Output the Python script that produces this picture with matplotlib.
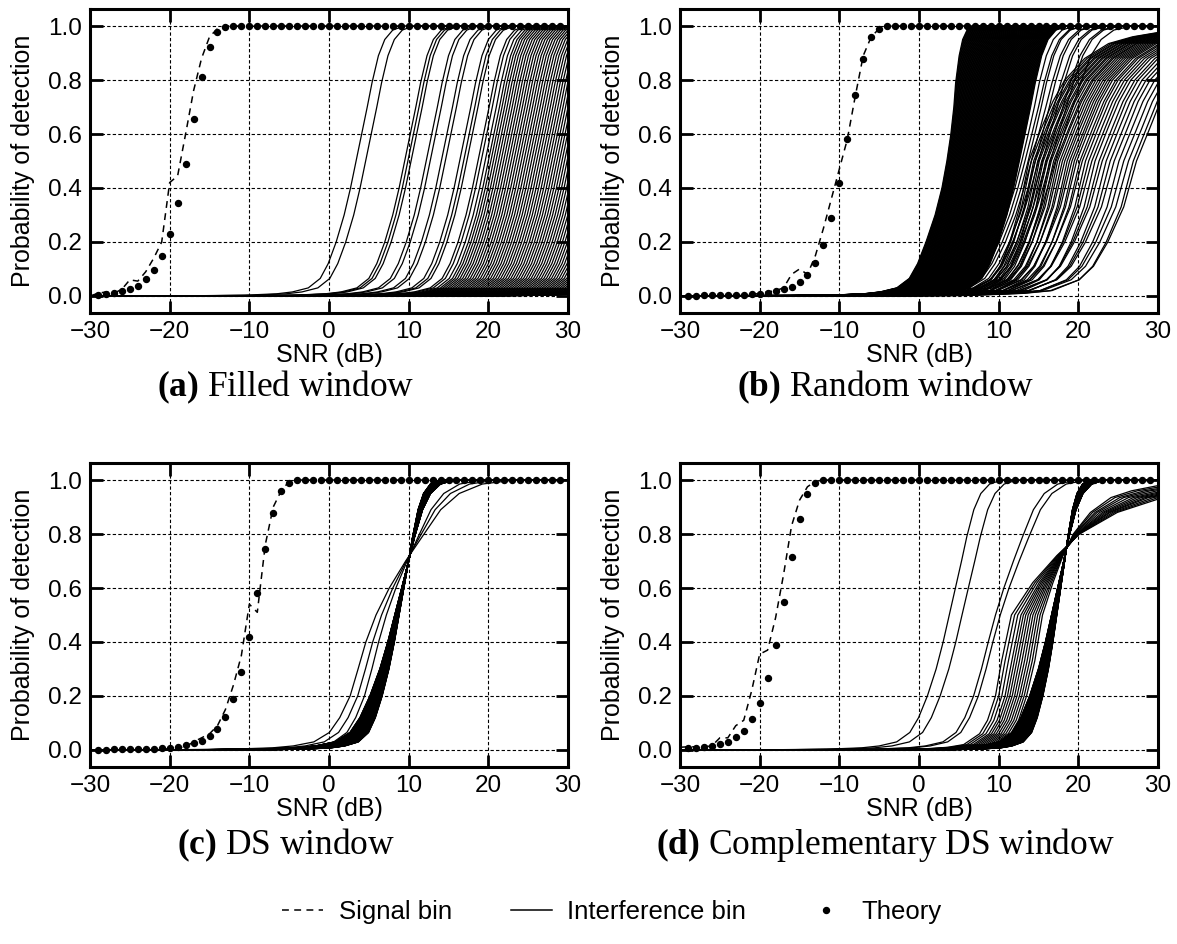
import matplotlib
matplotlib.use("Agg")
import matplotlib.pyplot as plt
import numpy as np
from matplotlib.lines import Line2D

plt.rcParams['font.family'] = ['Liberation Sans', 'DejaVu Sans']
plt.rcParams['mathtext.fontset'] = 'custom'
plt.rcParams['mathtext.rm'] = 'Liberation Serif'
plt.rcParams['mathtext.bf'] = 'Liberation Serif:bold'

# ---- SNR grids (dB)
snr_sig = np.arange(-30, 31)   # signal bin samples
snr_th = np.arange(-29, 30)    # theory samples

# ---- signal bin (dashed) and theory (dots)
sig_a = [0.0, 0.01, 0.015, 0.01, 0.025, 0.06, 0.055, 0.09, 0.14, 0.2, 0.42, 0.445,
         0.6, 0.76, 0.88, 0.96, 0.99, 1.0] + [1.0] * 43
th_a = [0.005, 0.008, 0.012, 0.019, 0.025, 0.038, 0.063, 0.095, 0.148, 0.229, 0.344,
        0.49, 0.657, 0.811, 0.922, 0.976, 0.996] + [1.0] * 42

sig_b = [0.0] * 9 + [0.005, 0.01] + [0.015, 0.02, 0.03, 0.08, 0.10, 0.08, 0.15, 0.25,
         0.36, 0.47, 0.58, 0.74, 0.89, 0.96, 0.99, 1.0] + [1.0] * 34
th_bc = [0.001, 0.001, 0.002, 0.002, 0.003, 0.003, 0.004, 0.005, 0.007, 0.009, 0.012,
         0.017, 0.025, 0.035, 0.051, 0.078, 0.121, 0.189, 0.288, 0.42, 0.58, 0.744,
         0.879, 0.959, 0.99] + [1.0] * 34

sig_c = [0.0] * 9 + [0.003, 0.005, 0.008] + [0.012, 0.03, 0.045, 0.06, 0.09, 0.15, 0.24,
         0.35, 0.54, 0.51, 0.76, 0.9, 0.96, 0.995, 1.0] + [1.0] * 34

sig_d = [0.01, 0.012, 0.012, 0.012, 0.015, 0.045, 0.045, 0.09, 0.11, 0.22, 0.355, 0.37,
         0.49, 0.65, 0.83, 0.925, 0.975, 0.995, 1.0] + [1.0] * 42
th_d = [0.006, 0.009, 0.011, 0.014, 0.021, 0.031, 0.048, 0.072, 0.114, 0.173, 0.265,
        0.39, 0.547, 0.714, 0.857, 0.947, 0.988] + [1.0] * 42

# ---- interference bin curve shapes (offset from the Pd=0.5 point, dB)
T_off = [-60, -20, -14, -10, -8, -6, -4.5, -3.5, -2.5, -1.5, -0.7, 0, 0.7, 1.4, 2.0, 2.8, 3.6, 4.6, 6.0, 60]
T_pd = [0.0, 0.001, 0.003, 0.008, 0.015, 0.03, 0.065, 0.12, 0.2, 0.3, 0.4, 0.5, 0.6, 0.7, 0.79, 0.89, 0.95, 0.985, 1.0, 1.0]
# shape with a long upper tail
U_off = [-60, -12, -8, -6, -4, -3, -2, -1, 0, 1.5, 3, 4.5, 7, 10, 13, 17, 25, 60]
U_pd = [0.0, 0.002, 0.01, 0.02, 0.06, 0.11, 0.2, 0.33, 0.5, 0.62, 0.72, 0.8, 0.88, 0.935, 0.96, 0.98, 0.996, 1.0]

# (a) filled window: Pd=0.5 points
a_mid = [3.4, 4.6, 9.5, 9.9, 10.3, 12.2, 12.7, 14.1, 14.6, 16.4, 16.9, 17.3, 18.7, 19.1, 19.6]
a_dense = (20.0, 42.0, 70)          # first, last, count

# (b) random window
b_mass = (3.5, 12.6, 130)
b_mass_whi = (0.55, 1.0)
b_midT = [12.9, 13.3, 13.7, 14.1, 14.6, 15.0, 15.5, 16.0, 16.5, 17.1]
b_midT_whi = [1.1, 1.2, 1.15, 1.3, 1.25, 1.4, 1.35, 1.5, 1.45, 1.6]
b_right_mid = [13.8, 14.1, 14.4, 14.6, 14.9, 15.1, 15.4, 15.6, 15.9, 16.1, 16.4, 16.6,
               16.9, 17.2, 17.4, 17.7, 18.0, 18.3, 18.6, 18.9, 19.2, 19.5, 19.8, 20.2,
               20.5, 20.9, 21.3, 21.7, 22.1, 22.6, 23.0, 23.5, 24.0, 24.5, 25.1, 25.7,
               26.3, 26.9, 27.3]
b_right_wlo = [1.2, 1.3, 1.25, 1.4, 1.3, 1.2, 1.45, 1.35, 1.3, 1.5, 1.25, 1.4,
               1.35, 1.5, 1.3, 1.45, 1.4, 1.55, 1.35, 1.5, 1.6, 1.4, 1.55, 1.5,
               1.65, 1.45, 1.6, 1.7, 1.5, 1.65, 1.75, 1.6, 1.7, 1.8, 1.65, 1.75,
               1.8, 1.7, 1.8]

# (c) DS window
c_mass_mid = (8.8, 8.25, 100)
c_mass_w = (0.85, 1.25)
c_out = [(5.9, 1.3, 2.9), (6.6, 1.2, 2.4), (7.2, 1.1, 2.0)]   # mid, w below, w above

# (d) complementary DS window
d_early = [(3.8, 1.1, 1.1), (5.4, 1.1, 1.15), (9.6, 1.1, 1.7), (10.2, 1.1, 1.8)]
d_tail_mid = [11.6, 12.0, 12.4, 12.8, 13.1, 13.4, 13.7, 14.0, 14.3, 14.6, 14.9, 15.2, 15.5]
d_tail_whi = [1.9, 1.8, 1.7, 1.6, 1.53, 1.45, 1.37, 1.29, 1.2, 1.11, 1.03, 0.94, 0.86]
d_mass_mid = (17.3, 16.63, 100)
d_mass_w = (0.7, 1.1)

DASH = (0, (4.5, 3.5))


def sweep(ax, mid, wlo, whi, off, pd):
    off = np.asarray(off, dtype=float)
    # width changes smoothly from the lower to the upper half of the curve
    x = mid + off * np.interp(off, [-2.0, 2.0], [wlo, whi])
    ax.plot(x, pd, color='k', lw=0.9)


fig = plt.figure(figsize=(11.77, 9.44), dpi=100)
W, H = 1177, 944
boxes = [(90, 9), (680, 9), (90, 463), (680, 463)]
axes = [fig.add_axes([x / W, 1 - (y + 304) / H, 478 / W, 304 / H]) for x, y in boxes]
ax_a, ax_b, ax_c, ax_d = axes

for m in a_mid + list(np.linspace(*a_dense)):
    sweep(ax_a, m, 1.0, 1.0, T_off, T_pd)

for m, wh in zip(np.linspace(*b_mass), np.linspace(*b_mass_whi, b_mass[2])):
    sweep(ax_b, m, 1.05, wh, T_off, T_pd)
for m, wh in zip(b_midT, b_midT_whi):
    sweep(ax_b, m, 1.3, wh, T_off, T_pd)
for m, wl in zip(b_right_mid, b_right_wlo):
    sweep(ax_b, m, wl, 1.0, U_off, U_pd)

for m, w in zip(np.linspace(*c_mass_mid), np.linspace(*c_mass_w, c_mass_mid[2])):
    sweep(ax_c, m, w, w, T_off, T_pd)
for m, wl, wh in c_out:
    sweep(ax_c, m, wl, wh, T_off, T_pd)

for m, wl, wh in d_early:
    sweep(ax_d, m, wl, wh, T_off, T_pd)
for m, wh in zip(d_tail_mid, d_tail_whi):
    sweep(ax_d, m, 1.0, wh, U_off, U_pd)
for m, w in zip(np.linspace(*d_mass_mid), np.linspace(*d_mass_w, d_mass_mid[2])):
    sweep(ax_d, m, w, w, T_off, T_pd)

signals = [sig_a, sig_b, sig_c, sig_d]
theories = [th_a, th_bc, th_bc, th_d]
captions = [r"$\mathbf{(a)}$ Filled window", r"$\mathbf{(b)}$ Random window",
            r"$\mathbf{(c)}$ DS window", r"$\mathbf{(d)}$ Complementary DS window"]
cap_pos = [(0.243, 0.590), (0.752, 0.590), (0.243, 0.105), (0.752, 0.105)]

for ax, sig, th, cap, (cx, cy) in zip(axes, signals, theories, captions, cap_pos):
    ax.plot(snr_sig, sig, color='k', lw=1.1, ls=DASH, zorder=4)
    ax.plot(snr_th, th, 'o', color='k', ms=4.3, zorder=5)
    ax.set_xlim(-30, 30)
    ax.set_ylim(-0.063, 1.063)
    ax.set_xticks(range(-30, 31, 10))
    ax.set_yticks(np.arange(0, 1.01, 0.2))
    ax.yaxis.set_major_formatter('{x:.1f}')
    ax.tick_params(direction='in', length=9, width=2, top=True, right=True,
                   labelsize=17.5, pad=6)
    for s in ax.spines.values():
        s.set_linewidth(2.2)
    ax.grid(True, ls=(0, (3, 2)), lw=0.8, color='k')
    ax.set_axisbelow(True)
    ax.set_xlabel('SNR (dB)', fontsize=18, labelpad=0)
    ax.set_ylabel('Probability of detection', fontsize=18, labelpad=9)
    fig.text(cx, cy, cap, ha='center', va='center', fontsize=25.5, family='Liberation Serif')

handles = [Line2D([], [], color='k', lw=1.1, ls=DASH),
           Line2D([], [], color='k', lw=1.1),
           Line2D([], [], color='k', ls='none', marker='o', ms=4.3)]
fig.legend(handles, ['Signal bin', 'Interference bin', 'Theory'], loc='center',
           bbox_to_anchor=(0.52, 0.034), ncol=3, frameon=False, fontsize=18.5,
           handlelength=1.6, columnspacing=2.3, handletextpad=0.6)

fig.savefig('out.png', dpi=100)
